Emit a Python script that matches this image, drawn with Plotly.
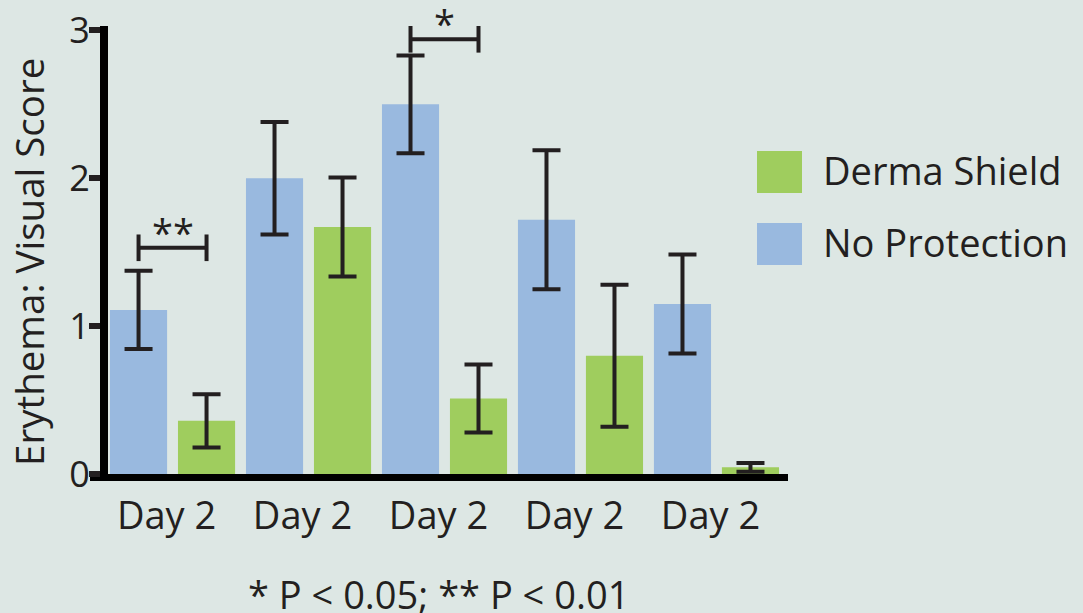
import plotly.graph_objects as go

# ---- data ----
groups = [0, 1, 2, 3, 4]
tick_labels = ["Day 2", "Day 2", "Day 2", "Day 2", "Day 2"]
no_protection = [1.11, 2.00, 2.50, 1.72, 1.15]
no_protection_err = [0.265, 0.38, 0.33, 0.47, 0.335]
derma_shield = [0.36, 1.67, 0.51, 0.80, 0.045]
derma_shield_err = [0.18, 0.335, 0.23, 0.48, 0.03]
legend_names = ["Derma Shield", "No Protection"]
footnote = "* P < 0.05; ** P < 0.01"
y_title = "Erythema: Visual Score"
# significance brackets: (group index, level, stars)
sig_groups = [0, 2]
sig_levels = [1.53, 2.94]
sig_labels = ["**", "*"]

BG = "#dde7e4"
BLUE = "#99b9df"
GREEN = "#9fcd5e"
INK = "#231f20"
FONT = "Open Sans"
FS = 38

W, H = 1083, 613
L, R, T, B = 90, 295, 26, 139
pw, ph = W - L - R, H - T - B


def px(x):
    return (x - L) / pw


def py(y):
    return (H - B - y) / ph


fig = go.Figure()
fig.add_trace(go.Bar(
    x=groups, y=no_protection, name=legend_names[1], marker_color=BLUE,
    marker_line_width=0,
    error_y=dict(type="data", array=no_protection_err, color=INK, thickness=4, width=14),
))
fig.add_trace(go.Bar(
    x=groups, y=derma_shield, name=legend_names[0], marker_color=GREEN,
    marker_line_width=0,
    error_y=dict(type="data", array=derma_shield_err, color=INK, thickness=4, width=14),
))

shapes = []
annotations = []
half = 0.25  # offset of each bar center from group center (bargap 0, two bars)
tick_h = 0.09
for g, lvl, lab in zip(sig_groups, sig_levels, sig_labels):
    x0, x1 = g - half, g + half
    line = dict(color=INK, width=4)
    shapes.append(dict(type="line", xref="x", yref="y", x0=x0, x1=x1, y0=lvl, y1=lvl, line=line))
    shapes.append(dict(type="line", xref="x", yref="y", x0=x0, x1=x0, y0=lvl - tick_h, y1=lvl + tick_h, line=line))
    shapes.append(dict(type="line", xref="x", yref="y", x0=x1, x1=x1, y0=lvl - tick_h, y1=lvl + tick_h, line=line))
    annotations.append(dict(x=g, y=lvl, xref="x", yref="y", text=lab, showarrow=False,
                            xanchor="center", yanchor="bottom", yshift=-12,
                            font=dict(family=FONT, size=FS, color=INK)))

# manual legend
leg_colors = [GREEN, BLUE]
leg_tops = [151, 223]
for name, col, top in zip(legend_names, leg_colors, leg_tops):
    shapes.append(dict(type="rect", xref="paper", yref="paper",
                       x0=px(757), x1=px(802), y0=py(top + 42), y1=py(top),
                       fillcolor=col, line_width=0))
    annotations.append(dict(x=px(821), y=py(top + 19), xref="paper", yref="paper",
                            text=name, showarrow=False, xanchor="left", yanchor="middle",
                            font=dict(family=FONT, size=FS, color=INK)))

annotations.append(dict(x=px(438), y=py(594), xref="paper", yref="paper", text=footnote,
                        showarrow=False, xanchor="center", yanchor="middle",
                        font=dict(family=FONT, size=FS, color=INK)))
annotations.append(dict(x=px(29), y=py(262), xref="paper", yref="paper", text=y_title,
                        showarrow=False, textangle=-90, xanchor="center", yanchor="middle",
                        font=dict(family=FONT, size=FS + 0.5, color=INK)))

fig.update_layout(
    width=W, height=H,
    margin=dict(l=L, r=R, t=T, b=B, pad=0, autoexpand=False),
    paper_bgcolor=BG, plot_bgcolor=BG,
    barmode="group", bargap=0.0, bargroupgap=0.16,
    showlegend=False,
    font=dict(family=FONT, color=INK),
    shapes=shapes, annotations=annotations,
    xaxis=dict(
        range=[-0.607, 4.526], domain=[0, 1], automargin=False,
        tickmode="array", tickvals=groups, ticktext=tick_labels,
        showline=True, linecolor="#000000", linewidth=7,
        ticks="outside", ticklen=2, tickcolor="rgba(0,0,0,0)",
        ticklabelshift=-6,
        tickfont=dict(family=FONT, size=FS, color=INK),
        showgrid=False, zeroline=False, fixedrange=True,
    ),
    yaxis=dict(
        range=[0, 3.03], anchor="free", position=px(104), automargin=False,
        tickmode="array", tickvals=[0, 1, 2, 3],
        showline=True, linecolor="#000000", linewidth=8,
        ticks="outside", ticklen=11, tickwidth=6, tickcolor=INK,
        ticklabelstandoff=-8,
        tickfont=dict(family=FONT, size=FS - 2, color=INK),
        showgrid=False, zeroline=False, fixedrange=True,
    ),
)

fig.write_html("out.html", config={"displayModeBar": False},
               post_script="document.body.style.margin='0';document.body.style.overflow='hidden';")
